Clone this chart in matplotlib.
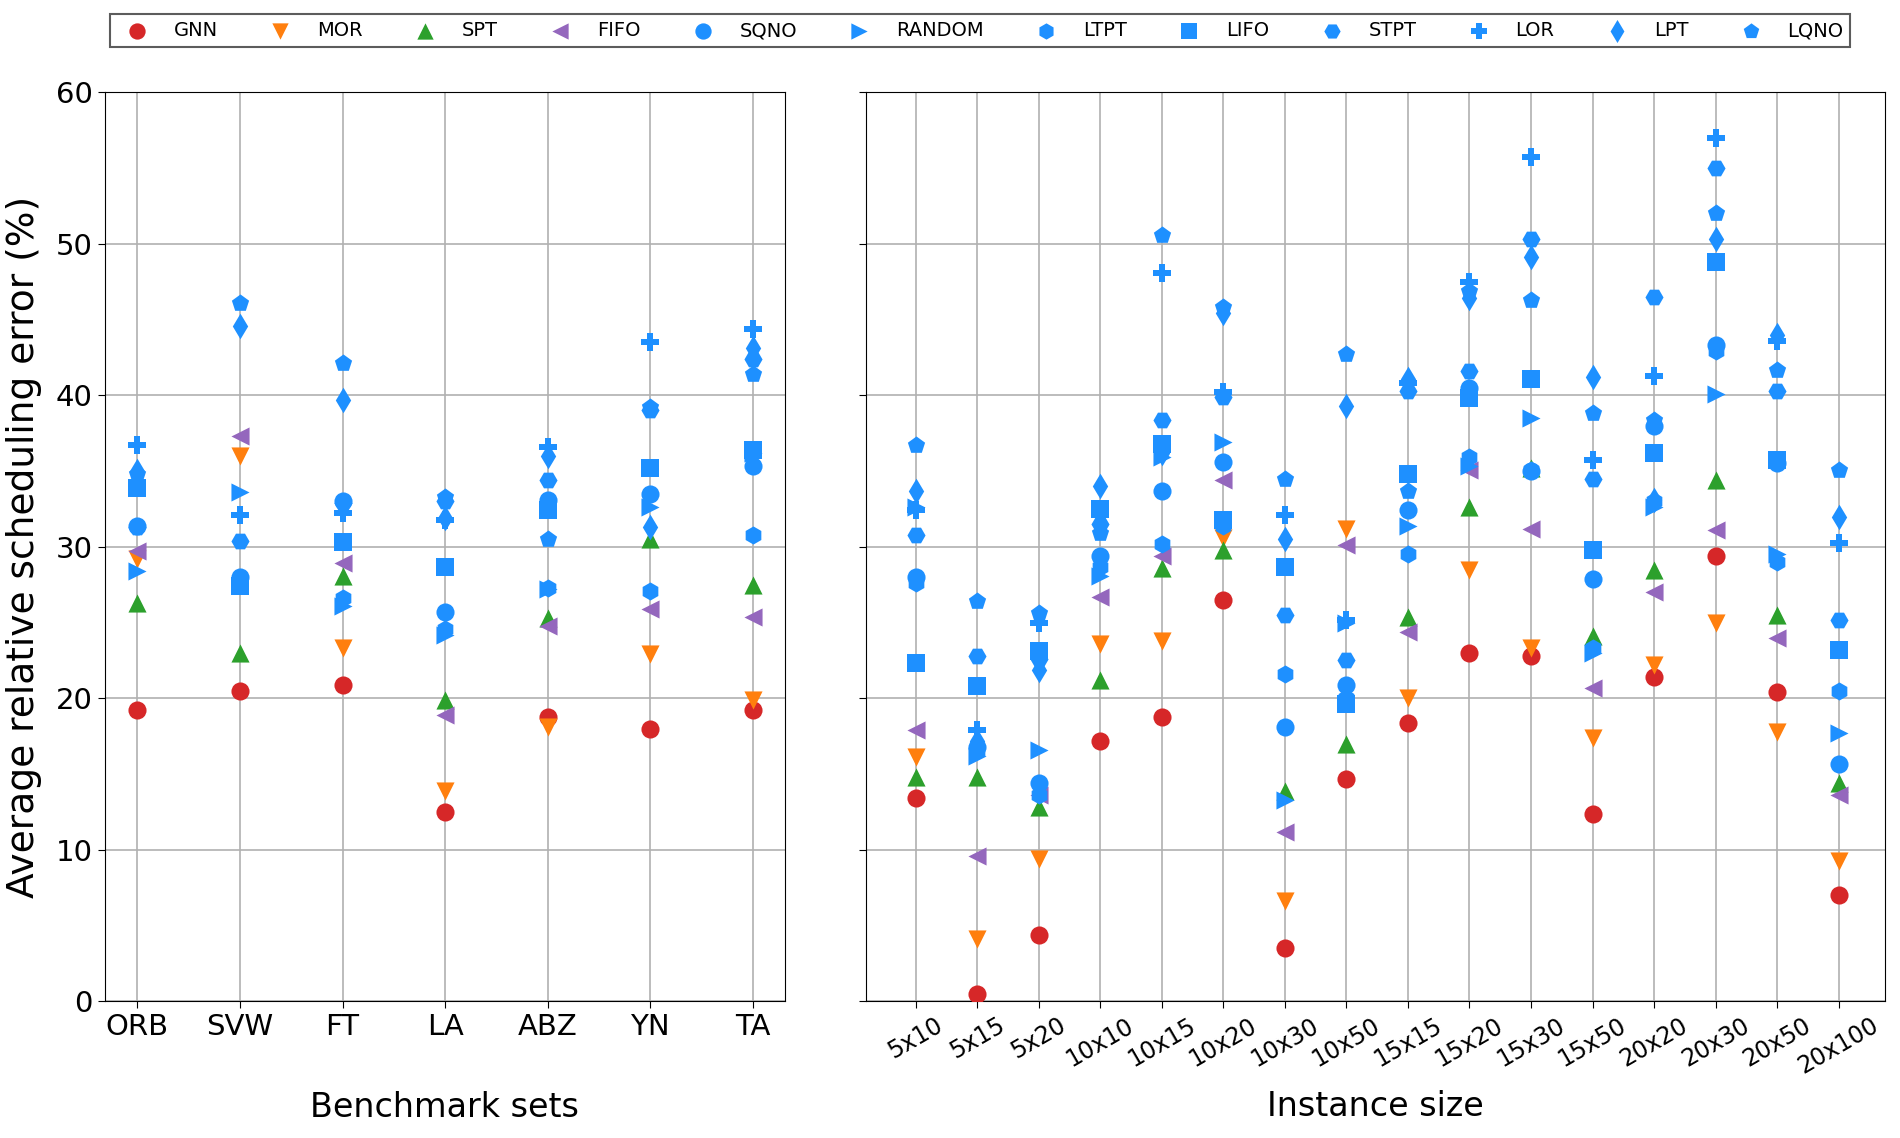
import matplotlib
matplotlib.use('Agg')
import matplotlib.pyplot as plt

# x categories
bench_sets = ['ORB', 'SVW', 'FT', 'LA', 'ABZ', 'YN', 'TA']
inst_sizes = ['5x10', '5x15', '5x20', '10x10', '10x15', '10x20', '10x30', '10x50',
              '15x15', '15x20', '15x30', '15x50', '20x20', '20x30', '20x50', '20x100']

# average relative error per benchmark set
gnn_bench = [19.25, 20.5, 20.9, 12.5, 18.8, 18.0, 19.25]
mor_bench = [29.2, 36.0, 23.3, 13.9, 18.1, 22.9, 19.9]
spt_bench = [26.3, 23.0, 28.1, 19.9, 25.3, 30.5, 27.5]
fifo_bench = [29.7, 37.3, 28.9, 18.9, 24.8, 25.9, 25.4]
sqno_bench = [31.4, 28.0, 33.0, 25.7, 33.1, 33.5, 35.3]
random_bench = [28.4, 33.6, 26.1, 24.2, 27.2, 32.6, 36.2]
ltpt_bench = [34.1, 27.8, 26.6, 24.6, 27.3, 27.1, 30.8]
lifo_bench = [33.9, 27.4, 30.3, 28.7, 32.4, 35.2, 36.4]
stpt_bench = [31.3, 30.4, 32.9, 33.0, 34.4, 39.0, 42.4]
lor_bench = [36.7, 32.1, 32.2, 31.8, 36.6, 43.5, 44.4]
lpt_bench = [35.0, 44.6, 39.7, 31.9, 36.0, 31.3, 43.1]
lqno_bench = [34.8, 46.1, 42.1, 33.3, 30.5, 39.2, 41.4]

# average relative error per instance size
gnn_size = [13.4, 0.5, 4.4, 17.2, 18.8, 26.5, 3.5, 14.7, 18.4, 23.0, 22.8, 12.4, 21.4, 29.4, 20.4, 7.0]
mor_size = [16.1, 4.1, 9.4, 23.6, 23.8, 30.6, 6.6, 31.2, 20.0, 28.5, 23.3, 17.4, 22.2, 25.0, 17.75, 9.25]
spt_size = [14.8, 14.8, 12.8, 21.2, 28.6, 29.8, 13.9, 17.0, 25.4, 32.6, 35.2, 24.1, 28.5, 34.4, 25.5, 14.4]
fifo_size = [17.9, 9.6, 13.6, 26.7, 29.4, 34.4, 11.2, 30.1, 24.4, 35.1, 31.2, 20.7, 27.0, 31.1, 24.0, 13.6]
sqno_size = [28.0, 16.8, 14.4, 29.4, 33.7, 35.6, 18.1, 20.9, 32.4, 40.5, 35.0, 27.9, 38.0, 43.3, 35.5, 15.7]
random_size = [32.6, 16.2, 16.6, 28.1, 35.9, 36.9, 13.3, 25.0, 31.4, 35.3, 38.5, 23.0, 32.6, 40.1, 29.5, 17.7]
ltpt_size = [27.6, 16.5, 13.6, 28.7, 30.2, 31.4, 21.6, 20.0, 29.5, 35.9, 35.1, 23.3, 33.0, 42.9, 29.0, 20.5]
lifo_size = [22.3, 20.8, 23.1, 32.5, 36.8, 31.8, 28.7, 19.6, 34.8, 39.8, 41.1, 29.8, 36.2, 48.8, 35.7, 23.2]
stpt_size = [30.8, 22.8, 22.6, 31.5, 38.4, 39.9, 25.5, 22.5, 40.3, 41.6, 50.3, 34.5, 46.5, 55.0, 40.3, 25.2]
lor_size = [32.4, 17.9, 25.0, 32.2, 48.1, 40.2, 32.1, 25.2, 40.8, 47.5, 55.7, 35.7, 41.25, 57.0, 43.6, 30.25]
lpt_size = [33.7, 17.2, 21.9, 34.0, 36.2, 45.4, 30.5, 39.3, 41.1, 46.4, 49.1, 41.2, 33.1, 50.3, 44.0, 32.0]
lqno_size = [36.7, 26.4, 25.6, 30.9, 50.6, 45.8, 34.5, 42.7, 33.7, 46.9, 46.3, 38.8, 38.4, 52.0, 41.7, 35.1]

blue = '#1e90ff'
methods = [
    ('GNN', 'o', 'tab:red', gnn_bench, gnn_size),
    ('MOR', 'v', 'tab:orange', mor_bench, mor_size),
    ('SPT', '^', 'tab:green', spt_bench, spt_size),
    ('FIFO', '<', 'tab:purple', fifo_bench, fifo_size),
    ('SQNO', 'o', blue, sqno_bench, sqno_size),
    ('RANDOM', '>', blue, random_bench, random_size),
    ('LTPT', 'h', blue, ltpt_bench, ltpt_size),
    ('LIFO', 's', blue, lifo_bench, lifo_size),
    ('STPT', 'H', blue, stpt_bench, stpt_size),
    ('LOR', 'P', blue, lor_bench, lor_size),
    ('LPT', 'd', blue, lpt_bench, lpt_size),
    ('LQNO', 'p', blue, lqno_bench, lqno_size),
]

fig = plt.figure(figsize=(19, 11.38), dpi=100)
ax1 = fig.add_axes([0.055, 0.120, 0.358, 0.799])
ax2 = fig.add_axes([0.456, 0.120, 0.536, 0.799], sharey=ax1)

for name, mk, col, yb, ys in methods:
    ax1.scatter(range(len(bench_sets)), yb, marker=mk, color=col, s=170,
                label=name, zorder=3, linewidths=0)
    ax2.scatter(range(len(inst_sizes)), ys, marker=mk, color=col, s=170,
                zorder=3, linewidths=0)

ax1.set_ylim(0, 60)
ax1.set_yticks(range(0, 61, 10))
ax1.set_xlim(-0.32, 6.31)
ax1.set_xticks(range(len(bench_sets)))
ax1.set_xticklabels(bench_sets)
ax1.tick_params(labelsize=21)
ax1.set_xlabel('Benchmark sets', fontsize=24, labelpad=36)
ax1.set_ylabel('Average relative scheduling error (%)', fontsize=27, labelpad=10)

ax2.set_xlim(-0.8, 15.75)
ax2.set_xticks(range(len(inst_sizes)))
ax2.set_xticklabels(inst_sizes, rotation=30)
ax2.tick_params(axis='x', labelsize=17)
ax2.tick_params(axis='y', labelleft=False)
ax2.set_xlabel('Instance size', fontsize=24, labelpad=8)

for ax in (ax1, ax2):
    ax.grid(True, color='#b0b0b0', lw=1.2)
    ax.set_axisbelow(True)
    ax.tick_params(length=5)

leg = fig.legend(loc='upper center', bbox_to_anchor=(0.516, 0.996), ncol=12,
                 fontsize=14, fancybox=False, edgecolor='#333333',
                 columnspacing=2.2, handletextpad=0.9, markerscale=0.9,
                 borderpad=0.35)
leg.get_frame().set_linewidth(1.5)

fig.savefig('out.png', dpi=100)
